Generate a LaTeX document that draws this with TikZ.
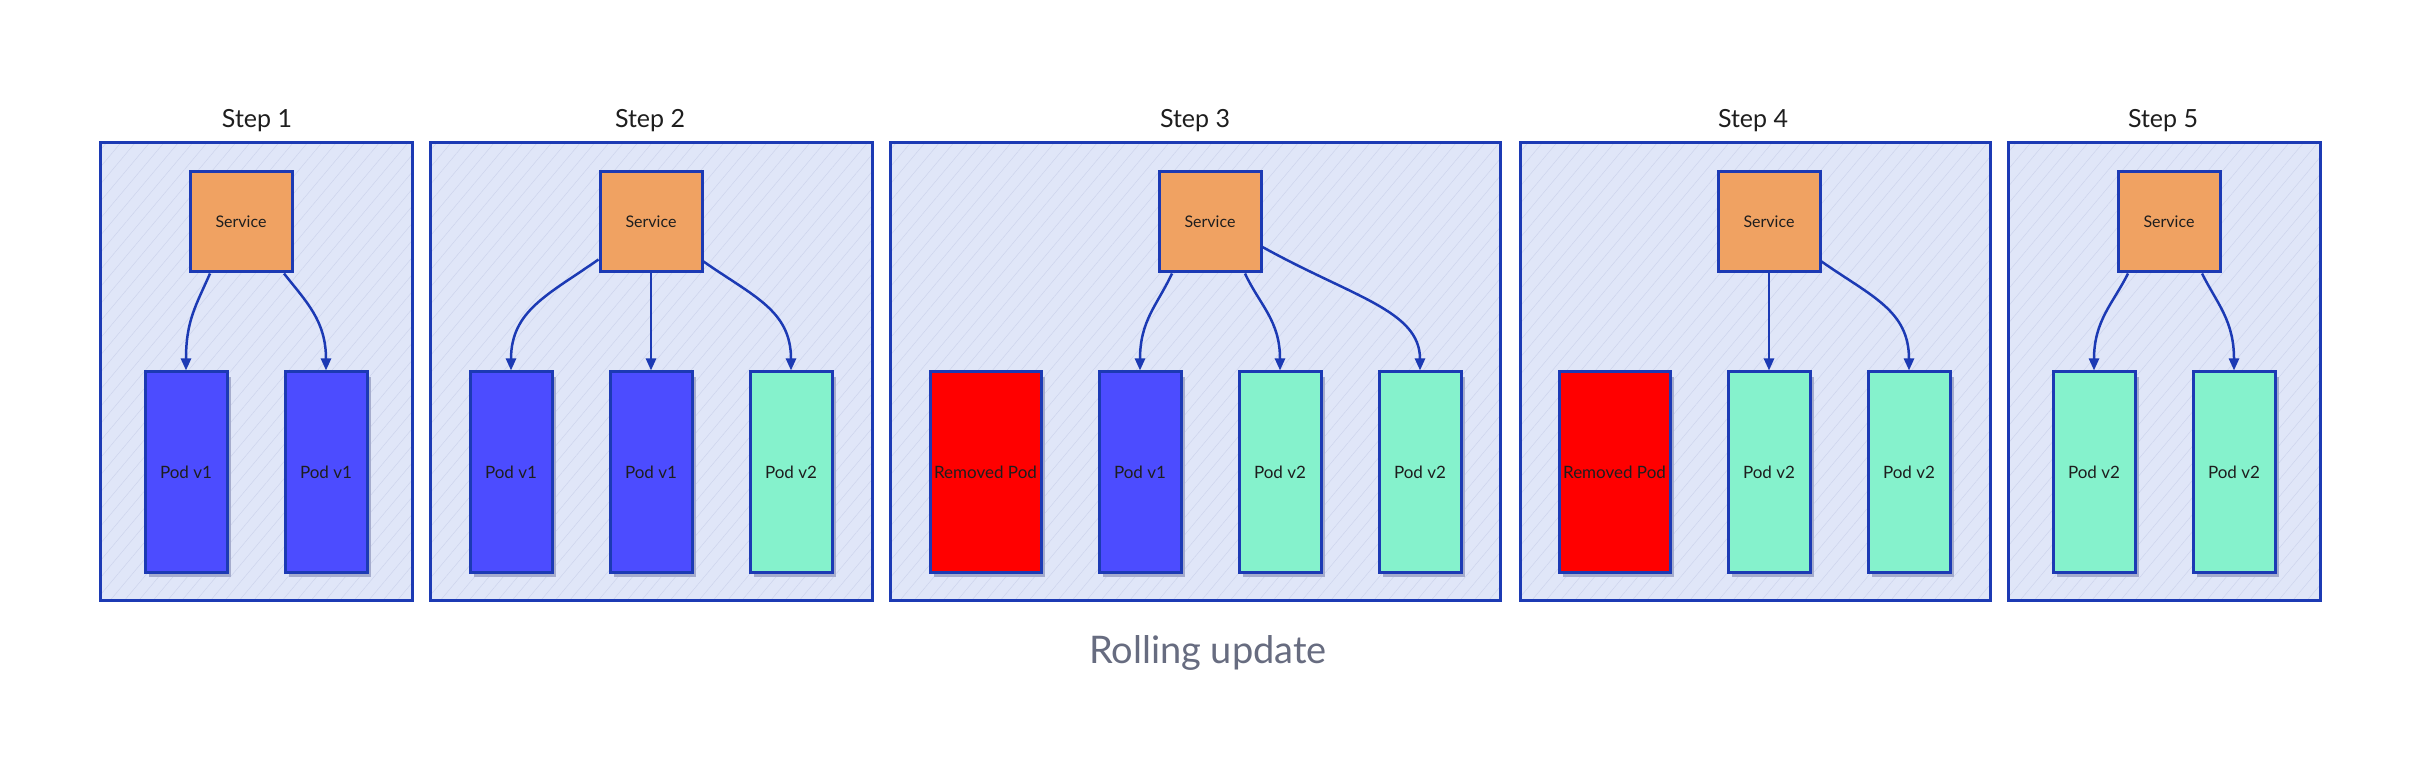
\documentclass[tikz,border=0pt]{standalone}
\usepackage{fontspec}
\setmainfont{Lato}
\usetikzlibrary{arrows.meta,calc,shadows,patterns.meta}
\definecolor{Stroke}{RGB}{28,58,180}
\definecolor{FrameFill}{RGB}{224,230,248}
\definecolor{Hatch}{RGB}{205,212,236}
\definecolor{SvcFill}{RGB}{240,162,98}
\definecolor{PodOne}{RGB}{76,76,255}
\definecolor{PodTwo}{RGB}{133,242,204}
\definecolor{PodGone}{RGB}{255,0,0}
\definecolor{ShadowC}{RGB}{165,172,205}
\definecolor{TitleC}{RGB}{30,30,30}
\definecolor{CaptionC}{RGB}{103,108,128}
\begin{document}
\begin{tikzpicture}[x=1pt,y=-1pt,
  frame/.style={draw=Stroke, line width=3pt, inner sep=0pt,
    preaction={fill=FrameFill},
    preaction={pattern={Lines[angle=50,distance=11pt,line width=0.5pt]}, pattern color=Hatch}},
  steptitle/.style={anchor=base, font=\fontsize{25}{30}\selectfont, text=TitleC},
  svc/.style={draw=Stroke, line width=3pt, fill=SvcFill, minimum width=102pt, minimum height=100pt,
    inner sep=0pt, font=\fontsize{16}{19}\selectfont, text=TitleC},
  podbase/.style={draw=Stroke, line width=3pt, minimum width=82pt, minimum height=200pt,
    inner sep=0pt, font=\fontsize{17}{20}\selectfont, text=TitleC,
    drop shadow={shadow xshift=4pt, shadow yshift=-5pt, fill=ShadowC, opacity=1}},
  podone/.style={podbase, fill=PodOne},
  podtwo/.style={podbase, fill=PodTwo},
  podgone/.style={podbase, fill=PodGone, minimum width=111pt},
  conn/.style={draw=Stroke, line width=2.5pt, -{Triangle[length=12pt,width=10pt]}},
  caption/.style={anchor=base, font=\fontsize{38}{44}\selectfont, text=CaptionC}
]
\useasboundingbox (0,0) rectangle (2420,783);
\fill[white] (0,0) rectangle (2420,783);

% frames
\node[frame, minimum width=312pt, minimum height=457pt] (f1) at (256,371.5) {};
\node[frame, minimum width=442pt, minimum height=457pt] (f2) at (651,371.5) {};
\node[frame, minimum width=610pt, minimum height=457pt] (f3) at (1195,371.5) {};
\node[frame, minimum width=470pt, minimum height=457pt] (f4) at (1755,371.5) {};
\node[frame, minimum width=312pt, minimum height=457pt] (f5) at (2164,371.5) {};

% titles
\node[steptitle] (t1) at (257,128) {Step 1};
\node[steptitle] (t2) at (650,128) {Step 2};
\node[steptitle] (t3) at (1195,128) {Step 3};
\node[steptitle] (t4) at (1753,128) {Step 4};
\node[steptitle] (t5) at (2163,128) {Step 5};

% services
\node[svc] (s1) at (241,222) {Service};
\node[svc] (s2) at (651,222) {Service};
\node[svc] (s3) at (1210,222) {Service};
\node[svc] (s4) at (1769,222) {Service};
\node[svc] (s5) at (2169,222) {Service};

% pods step 1
\node[podone] (p11) at (186,472) {Pod v1};
\node[podone] (p12) at (326,472) {Pod v1};
% pods step 2
\node[podone] (p21) at (511,472) {Pod v1};
\node[podone] (p22) at (651,472) {Pod v1};
\node[podtwo] (p23) at (791,472) {Pod v2};
% pods step 3
\node[podgone] (p31) at (985.5,472) {Removed Pod};
\node[podone] (p32) at (1140,472) {Pod v1};
\node[podtwo] (p33) at (1280,472) {Pod v2};
\node[podtwo] (p34) at (1420,472) {Pod v2};
% pods step 4
\node[podgone] (p41) at (1614.5,472) {Removed Pod};
\node[podtwo] (p42) at (1769,472) {Pod v2};
\node[podtwo] (p43) at (1909,472) {Pod v2};
% pods step 5
\node[podtwo] (p51) at (2094,472) {Pod v2};
\node[podtwo] (p52) at (2234,472) {Pod v2};

% connectors step 1
\draw[conn] ($(s1.south)+(-31,0)$) .. controls +(-14,32) and +(0,-50) .. (p11.north);
\draw[conn] ($(s1.south)+(43,0)$) .. controls +(22,28) and +(0,-50) .. (p12.north);
% step 2
\draw[conn] ($(s2.south west)+(0,-14)$) .. controls +(-50,35) and +(0,-60) .. (p21.north);
\draw[conn] (s2.south) -- (p22.north);
\draw[conn] ($(s2.south east)+(0,-12)$) .. controls +(50,35) and +(0,-60) .. (p23.north);
% step 3
\draw[conn] ($(s3.south)+(-38,0)$) .. controls +(-15,32) and +(0,-50) .. (p32.north);
\draw[conn] ($(s3.south)+(35,0)$) .. controls +(15,32) and +(0,-50) .. (p33.north);
\draw[conn] ($(s3.east)+(0,25)$) .. controls +(90,50) and +(0,-60) .. (p34.north);
% step 4
\draw[conn] (s4.south) -- (p42.north);
\draw[conn] ($(s4.south east)+(0,-12)$) .. controls +(50,35) and +(0,-60) .. (p43.north);
% step 5
\draw[conn] ($(s5.south)+(-41,0)$) .. controls +(-15,30) and +(0,-50) .. (p51.north);
\draw[conn] ($(s5.south)+(33,0)$) .. controls +(15,30) and +(0,-50) .. (p52.north);

% caption
\node[caption] (cap) at (1208,663) {Rolling update};
\end{tikzpicture}
\end{document}
